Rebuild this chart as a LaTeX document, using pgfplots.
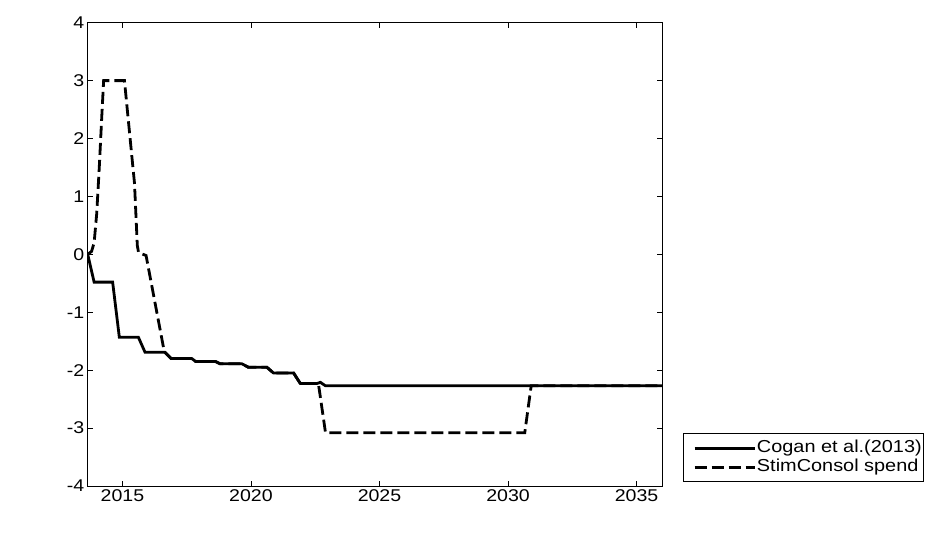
\documentclass[border=0pt]{standalone}
\usepackage{fontspec}
\setmainfont{Liberation Sans}[FakeStretch=1.15]
\usepackage{pgfplots}
\pgfplotsset{compat=1.18}
\begin{document}
\begin{tikzpicture}
\path[use as bounding box] (0,0) rectangle (927pt,535pt);
\begin{axis}[
  at={(87.7pt,49pt)}, anchor=south west,
  scale only axis, width=574.6pt, height=463.3pt,
  xmin=2013.65, xmax=2036, ymin=-4, ymax=4,
  xtick={2015,2020,2025,2030,2035},
  ytick={-4,-3,-2,-1,0,1,2,3,4},
  xticklabel style={/pgf/number format/1000 sep={}},
  /pgf/number format/assume math mode=true,
  tick label style={font=\fontsize{17}{17}\selectfont},
  tick align=inside, tick pos=both, major tick length=5pt,
  axis line style={line width=0.8pt},
  every tick/.style={black, line width=0.6pt},
  legend image code/.code={\draw[#1] (10pt,0pt) -- (70pt,0pt); \path[draw=none] (0pt,0pt) -- (71pt,0pt);},
  legend cell align=left,
  legend style={at={(1.0365,0.1137)}, anchor=north west, draw=black, line width=0.6pt,
    font=\fontsize{17.3}{17.3}\selectfont, inner xsep=1pt, inner ysep=6pt, row sep=2pt,
    nodes={inner sep=1pt, text height=12pt, text depth=3pt}},
]
\addplot[black, line width=2.8pt] coordinates {
(2013.65,0) (2013.9,-0.48) (2014.62,-0.48) (2014.88,-1.43) (2015.62,-1.43) (2015.88,-1.69)
(2016.65,-1.69) (2016.9,-1.80) (2017.7,-1.80) (2017.85,-1.85) (2018.62,-1.85) (2018.8,-1.89)
(2019.65,-1.89) (2019.9,-1.95) (2020.62,-1.95) (2020.88,-2.05) (2021.66,-2.05) (2021.92,-2.23)
(2022.57,-2.23) (2022.7,-2.21) (2022.9,-2.27) (2036,-2.27)
};
\addlegendentry{Cogan et al.(2013)}
\addplot[black, line width=2.8pt, dash pattern=on 12pt off 5pt] coordinates {
(2013.65,0) (2013.8,0.05) (2013.9,0.2) (2014.0,0.7) (2014.1,1.5) (2014.2,2.4) (2014.27,3.0)
(2015.08,3.0) (2015.37,1.68) (2015.47,1.23) (2015.58,0.15) (2015.63,0.03) (2015.92,-0.02)
(2016.62,-1.66) (2016.65,-1.69) (2016.9,-1.80) (2017.7,-1.80) (2017.85,-1.85) (2018.62,-1.85) (2018.8,-1.89)
(2019.65,-1.89) (2019.9,-1.95) (2020.62,-1.95) (2020.88,-2.05) (2021.66,-2.05) (2021.92,-2.23)
(2022.57,-2.23) (2022.62,-2.22) (2022.9,-3.08) (2030.65,-3.08) (2030.9,-2.27) (2036,-2.27)
};
\addlegendentry{StimConsol spend}
\end{axis}
\end{tikzpicture}
\end{document}
